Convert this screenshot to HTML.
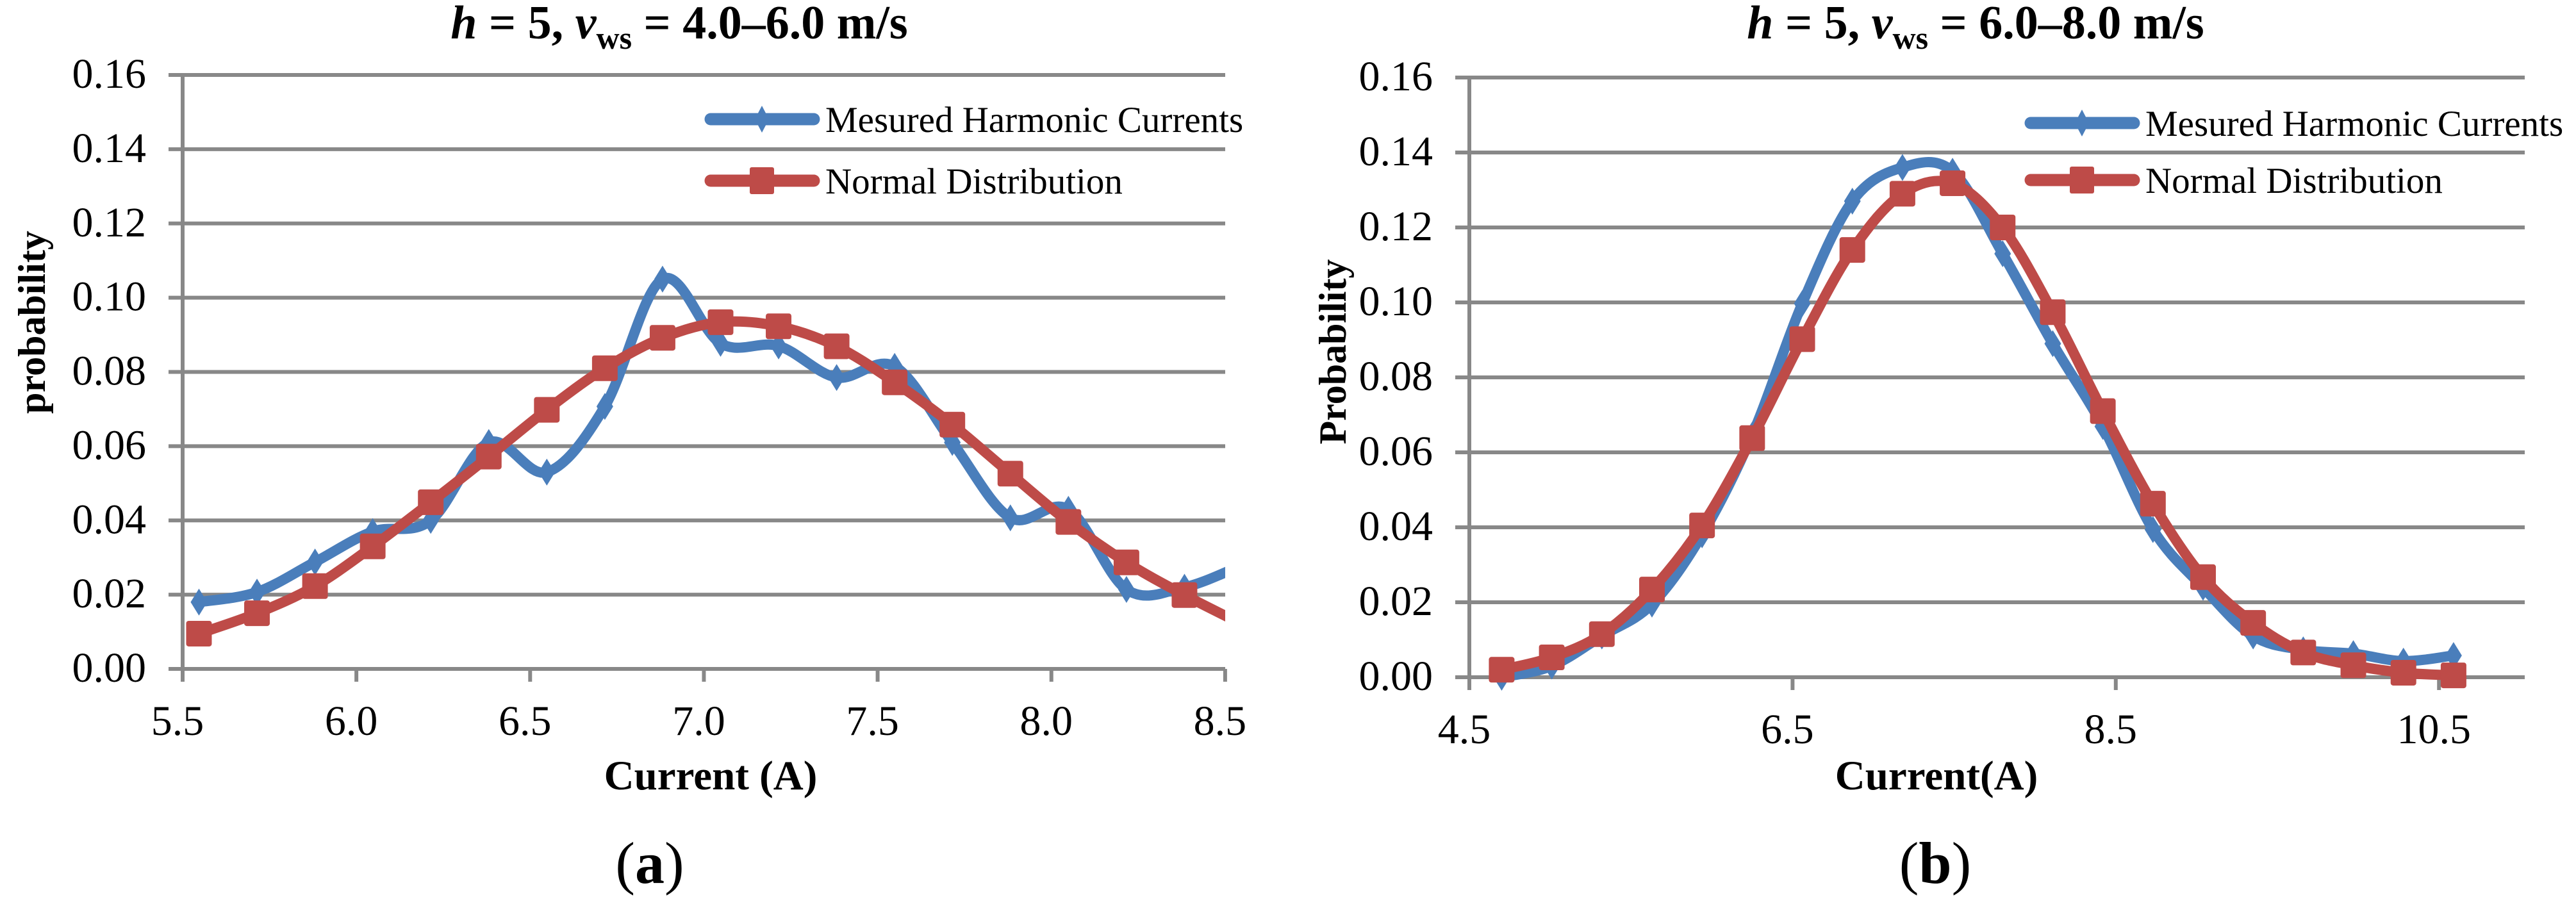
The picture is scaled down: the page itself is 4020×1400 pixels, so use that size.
<!DOCTYPE html>
<html><head><meta charset="utf-8">
<style>
html,body{margin:0;padding:0;background:#fff;}
svg{display:block;font-family:"Liberation Serif",serif;}
</style></head>
<body>
<svg id="fig" width="4020" height="1400" viewBox="0 0 4020 1400" xmlns="http://www.w3.org/2000/svg"></svg>
<script>
// Chart (a) data
const aX = [5.547,5.714,5.881,6.047,6.214,6.381,6.548,6.715,6.881,7.048,7.215,7.382,7.549,7.715,7.882,8.049,8.216,8.383,8.550];
const aMeasured = [0.018,0.0207,0.0288,0.037,0.040,0.061,0.053,0.0707,0.105,0.0877,0.087,0.0785,0.0815,0.061,0.0407,0.043,0.0214,0.022,0.028];
const aNormal = [0.0095,0.015,0.0223,0.033,0.0449,0.0572,0.0698,0.081,0.0892,0.0934,0.0923,0.0869,0.0772,0.0658,0.0526,0.0396,0.0287,0.0199,0.012];
const aXTicks = ["5.5","6.0","6.5","7.0","7.5","8.0","8.5"];
// Chart (b) data
const bX = [4.70,5.01,5.32,5.63,5.94,6.25,6.56,6.87,7.18,7.49,7.80,8.11,8.42,8.73,9.04,9.35,9.66,9.97,10.28,10.59];
const bMeasured = [0.0,0.003,0.011,0.0195,0.038,0.0646,0.0997,0.127,0.136,0.135,0.113,0.089,0.0669,0.0394,0.024,0.011,0.0073,0.0063,0.0043,0.0058];
const bNormal = [0.002,0.0053,0.0115,0.0234,0.0405,0.0638,0.0902,0.114,0.129,0.1318,0.120,0.0974,0.071,0.0463,0.0267,0.0145,0.0066,0.0032,0.0012,0.0005];
const bXTicks = ["4.5","6.5","8.5","10.5"];
const yTicks = ["0.00","0.02","0.04","0.06","0.08","0.10","0.12","0.14","0.16"];

const NS="http://www.w3.org/2000/svg";
const svg=document.getElementById('fig');
function mk(tag,attrs,parent){const e=document.createElementNS(NS,tag);for(const k in attrs)e.setAttribute(k,attrs[k]);(parent||svg).appendChild(e);return e;}
function smoothPath(pts){
  let d="M"+pts[0][0]+","+pts[0][1];
  for(let i=0;i<pts.length-1;i++){
    const p0=pts[i-1]||pts[i],p1=pts[i],p2=pts[i+1],p3=pts[i+2]||p2;
    const t=1/6;
    d+=" C"+(p1[0]+(p2[0]-p0[0])*t)+","+(p1[1]+(p2[1]-p0[1])*t)+" "+(p2[0]-(p3[0]-p1[0])*t)+","+(p2[1]-(p3[1]-p1[1])*t)+" "+p2[0]+","+p2[1];
  }
  return d;
}
const BLUE="#4a7ebb", RED="#be4b48", GRID="#888";

function chart(cfg){
  const g=mk('g',{});
  
  
  const xs=v=>cfg.left+(v-cfg.xmin)*cfg.xs;
  const ys=v=>cfg.y0-v/0.16*(cfg.y0-cfg.ytop);
  const cid='clip-'+cfg.name;
  const cp=mk('clipPath',{id:cid},g);
  mk('rect',{x:cfg.left,y:cfg.ytop-40,width:cfg.right-cfg.left,height:cfg.y0-cfg.ytop+80},cp);
  yTicks.forEach((t)=>{
    const v=parseFloat(t),y=ys(v);
    const l=mk('line',{x1:cfg.left-22,x2:cfg.right,y1:y,y2:y,stroke:GRID,'stroke-width':6},g);
    
    
    const tx=mk('text',{x:cfg.left-57,y:y+20,'font-size':66,'text-anchor':'end'},g);
    tx.textContent=t;
    
    
  });
  const ax=mk('line',{x1:cfg.left,x2:cfg.left,y1:cfg.ytop,y2:cfg.y0+20,stroke:GRID,'stroke-width':6},g);
  
  
  cfg.xticks.forEach(t=>{
    const x=xs(parseFloat(t));
    const tk=mk('line',{x1:x,x2:x,y1:cfg.y0,y2:cfg.y0+20,stroke:GRID,'stroke-width':6},g);
    
    
    const tx=mk('text',{x:x-8,y:cfg.y0+103,'font-size':66,'text-anchor':'middle'},g);
    tx.textContent=t;
    
    
  });
  const series=[[cfg.measured,BLUE,'diamond','measured-series'],[cfg.normal,RED,'square','normal-series']];
  series.forEach(([vals,col,shape,nm])=>{
    const sg=mk('g',{'clip-path':'url(#'+cid+')'},g);
    
    
    const pts=cfg.x.map((v,i)=>[xs(v),ys(vals[i])]);
    const p=mk('path',{d:smoothPath(pts),fill:'none',stroke:col,'stroke-width':16,'stroke-linejoin':'round','stroke-linecap':'round'},sg);
    
    
    pts.forEach(([x,y])=>{
      let m;
      if(shape==='square') m=mk('rect',{x:x-20,y:y-20,width:40,height:40,rx:4,fill:col},sg);
      else m=mk('path',{d:`M${x},${y-21} L${x+13},${y} L${x},${y+21} L${x-13},${y} Z`,fill:col},sg);
      
      
    });
  });
  const lg=mk('g',{},g);
  
  
  [[BLUE,'diamond','Mesured Harmonic Currents',cfg.legY1],[RED,'square','Normal Distribution',cfg.legY2]].forEach(([col,shape,txt,y])=>{
    const e=mk('g',{},lg);
    
    
    mk('line',{x1:cfg.legX+9,x2:cfg.legX+170,y1:y,y2:y,stroke:col,'stroke-width':19,'stroke-linecap':'round'},e);
    const cx=cfg.legX+89;
    if(shape==='square') mk('rect',{x:cx-19,y:y-21,width:38,height:42,rx:3,fill:col},e);
    else mk('path',{d:`M${cx},${y-21} L${cx+11},${y} L${cx},${y+21} L${cx-11},${y} Z`,fill:col},e);
    const t=mk('text',{x:cfg.legX+188,y:y+20,'font-size':57},e);
    t.textContent=txt;
  });
  const tt=mk('text',{x:cfg.titleX,y:60,'font-size':74,'font-weight':'bold','text-anchor':'middle'},g);
  tt.innerHTML='<tspan font-style="italic">h</tspan> = 5, <tspan font-style="italic">v</tspan><tspan font-size="50" dy="16">ws</tspan><tspan dy="-16"> = '+cfg.range+' m/s</tspan>';
  
  
  const xt=mk('text',{x:cfg.xtX,y:1232,'font-size':65,'font-weight':'bold','text-anchor':'middle'},g);
  xt.textContent=cfg.xtitle;
  
  
  const yt=mk('text',{x:0,y:0,'font-size':60,'font-weight':'bold','text-anchor':'middle',transform:`translate(${cfg.ytX},${cfg.ytY}) rotate(-90)`},g);
  yt.textContent=cfg.ytitle;
  
  
  const pl=mk('text',{x:cfg.plX,y:1378,'font-size':92,'text-anchor':'middle'},g);
  pl.innerHTML='(<tspan font-weight="bold">'+cfg.panel+'</tspan>)';
  
  
}

chart({name:'chart-a',left:285,right:1912,xmin:5.5,xs:542.3,y0:1044,ytop:117,x:aX,measured:aMeasured,normal:aNormal,xticks:aXTicks,
  legX:1100,legY1:186,legY2:282,titleX:1060,range:'4.0–6.0',xtitle:'Current (A)',xtX:1109,ytitle:'probability',ytX:70,ytY:503,panel:'a',plX:1014});
chart({name:'chart-b',left:2293,right:3940,xmin:4.5,xs:252.2,y0:1057,ytop:121,x:bX,measured:bMeasured,normal:bNormal,xticks:bXTicks,
  legX:3160,legY1:192,legY2:281,titleX:3083,range:'6.0–8.0',xtitle:'Current(A)',xtX:3022,ytitle:'Probability',ytX:2100,ytY:549,panel:'b',plX:3020});
</script>
</body></html>
